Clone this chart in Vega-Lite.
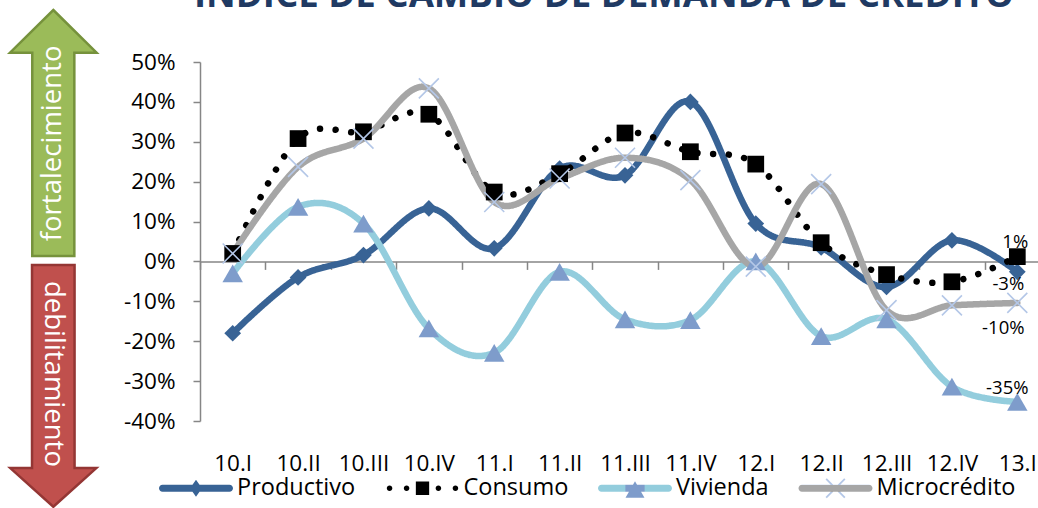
{
  "$schema": "https://vega.github.io/schema/vega-lite/v6.json",
  "width": 838,
  "height": 359,
  "autosize": {"type": "none"},
  "padding": {"left": 200, "top": 62, "right": 0, "bottom": 87},
  "background": "white",
  "config": {
    "view": {"stroke": null},
    "font": "Open Sans",
    "locale": {"number": {"decimal": ".", "thousands": ",", "grouping": [3], "currency": ["$", ""], "minus": "-"}},
    "axisY": {"title": null, "values": [-0.4,-0.3,-0.2,-0.1,0,0.1,0.2,0.3,0.4,0.5], "format": ".0%", "tickSize": 7, "labelPadding": 18, "domainColor": "#868686", "tickColor": "#868686", "domainWidth": 1.5, "tickWidth": 1.5, "labelFont": "Open Sans", "labelFontSize": 22.5, "labelColor": "#000000", "grid": false, "labelOverlap": false}
  },
  "title": {
    "text": "ÍNDICE DE CAMBIO DE DEMANDA DE CRÉDITO",
    "font": "Open Sans",
    "fontSize": 36.6,
    "fontWeight": "bold",
    "color": "#203A63",
    "anchor": "middle",
    "frame": "group",
    "baseline": "alphabetic",
    "offset": 0,
    "dy": 39,
    "dx": -15
  },
  "datasets": {
    "serie": [
      {"periodo": "10.I", "serie": "Productivo", "valor": -0.18},
      {"periodo": "10.II", "serie": "Productivo", "valor": -0.04},
      {"periodo": "10.III", "serie": "Productivo", "valor": 0.016},
      {"periodo": "10.IV", "serie": "Productivo", "valor": 0.133},
      {"periodo": "11.I", "serie": "Productivo", "valor": 0.033},
      {"periodo": "11.II", "serie": "Productivo", "valor": 0.233},
      {"periodo": "11.III", "serie": "Productivo", "valor": 0.216},
      {"periodo": "11.IV", "serie": "Productivo", "valor": 0.40},
      {"periodo": "12.I", "serie": "Productivo", "valor": 0.095},
      {"periodo": "12.II", "serie": "Productivo", "valor": 0.035},
      {"periodo": "12.III", "serie": "Productivo", "valor": -0.064},
      {"periodo": "12.IV", "serie": "Productivo", "valor": 0.053},
      {"periodo": "13.I", "serie": "Productivo", "valor": -0.026},
      {"periodo": "10.I", "serie": "Consumo", "valor": 0.02},
      {"periodo": "10.II", "serie": "Consumo", "valor": 0.308},
      {"periodo": "10.III", "serie": "Consumo", "valor": 0.325},
      {"periodo": "10.IV", "serie": "Consumo", "valor": 0.369},
      {"periodo": "11.I", "serie": "Consumo", "valor": 0.174},
      {"periodo": "11.II", "serie": "Consumo", "valor": 0.22},
      {"periodo": "11.III", "serie": "Consumo", "valor": 0.322},
      {"periodo": "11.IV", "serie": "Consumo", "valor": 0.275},
      {"periodo": "12.I", "serie": "Consumo", "valor": 0.244},
      {"periodo": "12.II", "serie": "Consumo", "valor": 0.047},
      {"periodo": "12.III", "serie": "Consumo", "valor": -0.033},
      {"periodo": "12.IV", "serie": "Consumo", "valor": -0.051},
      {"periodo": "13.I", "serie": "Consumo", "valor": 0.012},
      {"periodo": "10.I", "serie": "Vivienda", "valor": -0.03},
      {"periodo": "10.II", "serie": "Vivienda", "valor": 0.137},
      {"periodo": "10.III", "serie": "Vivienda", "valor": 0.095},
      {"periodo": "10.IV", "serie": "Vivienda", "valor": -0.168},
      {"periodo": "11.I", "serie": "Vivienda", "valor": -0.229},
      {"periodo": "11.II", "serie": "Vivienda", "valor": -0.026},
      {"periodo": "11.III", "serie": "Vivienda", "valor": -0.145},
      {"periodo": "11.IV", "serie": "Vivienda", "valor": -0.147},
      {"periodo": "12.I", "serie": "Vivienda", "valor": 0.0},
      {"periodo": "12.II", "serie": "Vivienda", "valor": -0.187},
      {"periodo": "12.III", "serie": "Vivienda", "valor": -0.145},
      {"periodo": "12.IV", "serie": "Vivienda", "valor": -0.314},
      {"periodo": "13.I", "serie": "Vivienda", "valor": -0.352},
      {"periodo": "10.I", "serie": "Microcrédito", "valor": 0.02},
      {"periodo": "10.II", "serie": "Microcrédito", "valor": 0.237},
      {"periodo": "10.III", "serie": "Microcrédito", "valor": 0.308},
      {"periodo": "10.IV", "serie": "Microcrédito", "valor": 0.434},
      {"periodo": "11.I", "serie": "Microcrédito", "valor": 0.149},
      {"periodo": "11.II", "serie": "Microcrédito", "valor": 0.208},
      {"periodo": "11.III", "serie": "Microcrédito", "valor": 0.26},
      {"periodo": "11.IV", "serie": "Microcrédito", "valor": 0.204},
      {"periodo": "12.I", "serie": "Microcrédito", "valor": -0.013},
      {"periodo": "12.II", "serie": "Microcrédito", "valor": 0.194},
      {"periodo": "12.III", "serie": "Microcrédito", "valor": -0.122},
      {"periodo": "12.IV", "serie": "Microcrédito", "valor": -0.11},
      {"periodo": "13.I", "serie": "Microcrédito", "valor": -0.104}
    ],
    "flechas": [
      {"sentido": "fortalecimiento", "centro": 0.322, "centro_texto": 0.296},
      {"sentido": "debilitamiento", "centro": -0.312, "centro_texto": -0.282}
    ]
  },
  "resolve": {"scale": {"x": "independent"}},
  "layer": [
    {
      "data": {"name": "serie"},
      "encoding": {
        "x": {
          "field": "periodo", "type": "ordinal",
          "scale": {"type": "band", "domain": ["10.I","10.II","10.III","10.IV","11.I","11.II","11.III","11.IV","12.I","12.II","12.III","12.IV","13.I"], "range": [0, 850], "paddingInner": 0, "paddingOuter": 0},
          "axis": {"title": null, "orient": "bottom", "offset": -159.6, "tickBand": "extent", "tickSize": 8, "tickColor": "#868686", "tickWidth": 1.5, "domainColor": "#868686", "domainWidth": 1.5, "labelPadding": 183.5, "labelFont": "Open Sans", "labelFontSize": 22.5, "labelColor": "#000000", "labelAngle": 0, "labelOverlap": false, "grid": false}
        },
        "y": {
          "field": "valor", "type": "quantitative",
          "scale": {"domain": [-0.4, 0.5], "nice": false, "zero": false},
          "axis": {"title": null, "values": [-0.4,-0.3,-0.2,-0.1,0,0.1,0.2,0.3,0.4,0.5], "format": ".0%", "labelOverlap": false}
        }
      },
      "layer": [
        {
          "mark": {"type": "line", "interpolate": "cardinal", "strokeWidth": 6.5, "strokeCap": "round", "strokeJoin": "round"},
          "encoding": {
            "color": {"field": "serie", "type": "nominal",
              "scale": {"domain": ["Productivo","Consumo","Vivienda","Microcrédito"], "range": ["#386395","#000000","#93CDDD","#A6A6A6"]},
              "legend": {
                "orient": "none", "legendX": -41, "legendY": 389, "direction": "horizontal", "title": null,
                "symbolSize": 5476, "symbolStrokeWidth": 0,
                "labelFont": "Open Sans", "labelFontSize": 23.5, "labelColor": "#000000", "labelOffset": 4,
                "columnPadding": 29.5, "padding": 0, "rowPadding": 0,
                "encode": {"symbols": {"update": {
                  "shape": {"signal": "datum.value === 'Productivo' ? 'M-0.905,-0.095L0.905,-0.095A0.095,0.095 0 0 1 0.905,0.095L-0.905,0.095A0.095,0.095 0 0 1 -0.905,-0.095ZM-0.162,0L0,-0.23L0.162,0L0,0.23Z' : datum.value === 'Consumo' ? 'M-0.965,0A0.075,0.075 0 1 1 -0.815,0A0.075,0.075 0 1 1 -0.965,0ZM-0.505,0A0.075,0.075 0 1 1 -0.355,0A0.075,0.075 0 1 1 -0.505,0ZM0.355,0A0.075,0.075 0 1 1 0.505,0A0.075,0.075 0 1 1 0.355,0ZM0.815,0A0.075,0.075 0 1 1 0.965,0A0.075,0.075 0 1 1 0.815,0ZM-0.18,-0.18L0.18,-0.18L0.18,0.18L-0.18,0.18Z' : datum.value === 'Vivienda' ? 'M-0.905,-0.095L0.905,-0.095A0.095,0.095 0 0 1 0.905,0.095L-0.905,0.095A0.095,0.095 0 0 1 -0.905,-0.095ZM0,-0.19L0.257,0.26L-0.257,0.26Z' : 'M-0.905,-0.095L0.905,-0.095A0.095,0.095 0 0 1 0.905,0.095L-0.905,0.095A0.095,0.095 0 0 1 -0.905,-0.095ZM-0.235,-0.27L0.27,0.235L0.235,0.27L-0.27,-0.235ZM0.235,-0.27L0.27,-0.235L-0.235,0.27L-0.27,0.235Z'"},
                  "fill": {"signal": "datum.value === 'Productivo' ? '#386395' : datum.value === 'Consumo' ? '#000000' : datum.value === 'Vivienda' ? {gradient: 'linear', x1: 0, y1: 0, x2: 1, y2: 0, stops: [{offset: 0, color: '#93CDDD'}, {offset: 0.371, color: '#93CDDD'}, {offset: 0.372, color: '#7E9CCB'}, {offset: 0.628, color: '#7E9CCB'}, {offset: 0.629, color: '#93CDDD'}, {offset: 1, color: '#93CDDD'}]} : {gradient: 'linear', x1: 0, y1: 0, x2: 0, y2: 1, stops: [{offset: 0, color: '#B4C7E7'}, {offset: 0.324, color: '#B4C7E7'}, {offset: 0.325, color: '#A6A6A6'}, {offset: 0.675, color: '#A6A6A6'}, {offset: 0.676, color: '#B4C7E7'}, {offset: 1, color: '#B4C7E7'}]}"},
                  "stroke": {"value": "transparent"},
                  "strokeWidth": {"value": 0},
                  "opacity": {"value": 1}
                }}}
              }
            },
            "strokeDash": {"field": "serie", "type": "nominal",
              "scale": {"domain": ["Productivo","Consumo","Vivienda","Microcrédito"], "range": [[1,0],[0.01,15.7],[1,0],[1,0]]},
              "legend": null}
          }
        },
        {
          "transform": [{"filter": "datum.serie === 'Productivo'"}],
          "mark": {"type": "point", "filled": true, "opacity": 1, "size": 280, "shape": "diamond", "fill": "#386395", "strokeWidth": 0}
        },
        {
          "transform": [{"filter": "datum.serie === 'Consumo'"}],
          "mark": {"type": "point", "filled": true, "opacity": 1, "size": 280, "shape": "square", "fill": "#000000", "strokeWidth": 0}
        },
        {
          "transform": [{"filter": "datum.serie === 'Vivienda'"}],
          "mark": {"type": "point", "filled": true, "opacity": 1, "size": 420, "shape": "triangle-up", "fill": "#7E9CCB", "strokeWidth": 0}
        },
        {
          "transform": [{"filter": "datum.serie === 'Microcrédito'"}],
          "mark": {"type": "point", "filled": false, "opacity": 1, "size": 400, "shape": "M-1,-1L1,1M1,-1L-1,1", "stroke": "#B4C7E7", "strokeWidth": 1.6}
        },
        {
          "transform": [{"filter": "datum.serie === 'Consumo' && datum.periodo === '13.I'"}],
          "mark": {"type": "text", "font": "Open Sans", "fontSize": 18.5, "color": "#000000", "align": "center", "baseline": "middle", "dx": -2, "dy": -15},
          "encoding": {"text": {"field": "valor", "type": "quantitative", "format": ".0%"}}
        },
        {
          "transform": [{"filter": "datum.serie === 'Productivo' && datum.periodo === '13.I'"}],
          "mark": {"type": "text", "font": "Open Sans", "fontSize": 18.5, "color": "#000000", "align": "center", "baseline": "middle", "dx": -9, "dy": 12},
          "encoding": {"text": {"field": "valor", "type": "quantitative", "format": ".0%"}}
        },
        {
          "transform": [{"filter": "datum.serie === 'Microcrédito' && datum.periodo === '13.I'"}],
          "mark": {"type": "text", "font": "Open Sans", "fontSize": 18.5, "color": "#000000", "align": "center", "baseline": "middle", "dx": -14, "dy": 25.5},
          "encoding": {"text": {"field": "valor", "type": "quantitative", "format": ".0%"}}
        },
        {
          "transform": [{"filter": "datum.serie === 'Vivienda' && datum.periodo === '13.I'"}],
          "mark": {"type": "text", "font": "Open Sans", "fontSize": 18.5, "color": "#000000", "align": "center", "baseline": "middle", "dx": -10, "dy": -14},
          "encoding": {"text": {"field": "valor", "type": "quantitative", "format": ".0%"}}
        }
      ]
    },
    {
      "data": {"name": "flechas"},
      "encoding": {
        "x": {"datum": "indicador", "type": "nominal", "scale": {"type": "point", "domain": ["indicador"], "range": [-200, -93.4]}, "axis": null}
      },
      "layer": [
        {
          "transform": [{"filter": "datum.sentido === 'fortalecimiento'"}],
          "mark": {"type": "point", "filled": true, "opacity": 1, "size": 60516, "fill": "#9BBB59", "stroke": "#76923C", "strokeWidth": 2.5,
            "shape": "M0,-1L0.352,-0.653L0.171,-0.653L0.171,1L-0.171,1L-0.171,-0.653L-0.352,-0.653Z"},
          "encoding": {"y": {"field": "centro", "type": "quantitative", "scale": {"domain": [-0.4, 0.5], "nice": false, "zero": false}, "axis": {"title": null, "values": [-0.4,-0.3,-0.2,-0.1,0,0.1,0.2,0.3,0.4,0.5], "format": ".0%", "labelOverlap": false}}}
        },
        {
          "transform": [{"filter": "datum.sentido === 'debilitamiento'"}],
          "mark": {"type": "point", "filled": true, "opacity": 1, "size": 58419, "fill": "#C0504D", "stroke": "#943634", "strokeWidth": 2.5,
            "shape": "M0,1L0.356,0.68L0.176,0.68L0.176,-1L-0.176,-1L-0.176,0.68L-0.356,0.68Z"},
          "encoding": {"y": {"field": "centro", "type": "quantitative", "scale": {"domain": [-0.4, 0.5], "nice": false, "zero": false}, "axis": {"title": null, "values": [-0.4,-0.3,-0.2,-0.1,0,0.1,0.2,0.3,0.4,0.5], "format": ".0%", "labelOverlap": false}}}
        },
        {
          "transform": [{"filter": "datum.sentido === 'fortalecimiento'"}],
          "mark": {"type": "text", "font": "Open Sans", "fontSize": 27.5, "color": "#FFFFFF", "angle": 270, "align": "center", "baseline": "middle"},
          "encoding": {
            "y": {"field": "centro_texto", "type": "quantitative", "scale": {"domain": [-0.4, 0.5], "nice": false, "zero": false}, "axis": {"title": null, "values": [-0.4,-0.3,-0.2,-0.1,0,0.1,0.2,0.3,0.4,0.5], "format": ".0%", "labelOverlap": false}},
            "text": {"field": "sentido"}
          }
        },
        {
          "transform": [{"filter": "datum.sentido === 'debilitamiento'"}],
          "mark": {"type": "text", "font": "Open Sans", "fontSize": 27.5, "color": "#FFFFFF", "angle": 90, "align": "center", "baseline": "middle"},
          "encoding": {
            "y": {"field": "centro_texto", "type": "quantitative", "scale": {"domain": [-0.4, 0.5], "nice": false, "zero": false}, "axis": {"title": null, "values": [-0.4,-0.3,-0.2,-0.1,0,0.1,0.2,0.3,0.4,0.5], "format": ".0%", "labelOverlap": false}},
            "text": {"field": "sentido"}
          }
        }
      ]
    }
  ]
}
